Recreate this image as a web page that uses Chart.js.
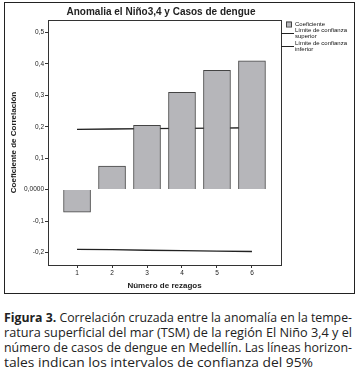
<!DOCTYPE html>
<html>
<head>
<meta charset="utf-8">
<script src="https://cdn.jsdelivr.net/npm/chart.js@4"></script>
<style>
  body { margin: 0; background: #fff; width: 360px; height: 380px; position: relative; overflow: hidden; }
  #frame { position: absolute; left: 4px; top: 2px; width: 349px; height: 290px; border: 1px solid #222; }
  #wrap { position: absolute; left: 5px; top: 3px; width: 349px; height: 290px; }
  #title { position: absolute; left: 0; width: 322px; top: 6px; text-align: center;
           font: bold 10px "Liberation Sans", Arial, sans-serif; color: #222; }
  #caption { position: absolute; left: 4px; top: 310px; width: 349px; color: #222;
             font-family: "Open Sans", sans-serif; font-size: 12.6px; line-height: 15px; }
  #caption span { display: inline-block; white-space: nowrap; transform-origin: 0 0; }
</style>
</head>
<body>
<div id="frame"></div>
<div id="wrap"><canvas id="myChart"></canvas></div>
<div id="title">Anomalia el Niño3,4 y Casos de dengue</div>
<div id="caption">
  <span data-w="348"><b>Figura 3.</b> Correlación cruzada entre la anomalía en la tempe-</span><br>
  <span data-w="348">ratura superficial del mar (TSM) de la región El Niño 3,4 y el</span><br>
  <span data-w="348">número de casos de dengue en Medellín. Las líneas horizon-</span><br>
  <span data-w="309">tales indican los intervalos de confianza del 95%</span>
</div>
<script>
const lags = [1, 2, 3, 4, 5, 6];
const coeficiente = [-0.072, 0.075, 0.205, 0.310, 0.380, 0.410];
const limite_superior = [0.192, 0.193, 0.194, 0.195, 0.196, 0.197];
const limite_inferior = [-0.190, -0.191, -0.193, -0.194, -0.196, -0.197];
const y_ticks = [-0.2, -0.1, 0, 0.1, 0.2, 0.3, 0.4, 0.5];
const y_tick_labels = ['-0,2', '-0,1', '0,0000', '0,1', '0,2', '0,3', '0,4', '0,5'];

// squeeze caption lines like the condensed print font
document.querySelectorAll('#caption span').forEach((el) => {
    const w = el.getBoundingClientRect().width;
    el.style.transform = 'scaleX(' + (Number(el.dataset.w) / w) + ')';
});

const pts = (vals) => lags.map((x, i) => ({x: x, y: vals[i]}));

// legend + box around plot area
const boxLegend = {
    id: 'boxLegend',
    afterDatasetsDraw(chart) {
        const ctx = chart.ctx;
        const a = chart.chartArea;
        ctx.save();
        ctx.strokeStyle = '#333';
        ctx.lineWidth = 1;
        ctx.strokeRect(a.left + 0.5, a.top + 0.5, a.right - a.left, a.bottom - a.top);

        ctx.font = '6px "Liberation Sans", Arial, sans-serif';
        ctx.textBaseline = 'middle';
        const tx = a.right + 14;
        chart.data.datasets.forEach((ds) => {
            const lines = Array.isArray(ds.label) ? ds.label : [ds.label];
            const y0 = ds.legendY;
            if (ds.type === 'bar') {
                ctx.fillStyle = ds.backgroundColor;
                ctx.fillRect(a.right + 5, y0 - 2.5, 5, 5);
                ctx.strokeStyle = ds.borderColor;
                ctx.strokeRect(a.right + 5.5, y0 - 2, 5, 5);
            } else {
                ctx.strokeStyle = ds.borderColor;
                ctx.lineWidth = 1;
                ctx.beginPath();
                ctx.moveTo(a.right, y0 + 3.5);
                ctx.lineTo(a.right + 13, y0 + 3.5);
                ctx.stroke();
            }
            ctx.fillStyle = '#111';
            lines.forEach((t, k) => ctx.fillText(t, tx, y0 + k * 6.5));
        });
        ctx.restore();
    }
};

const context = document.getElementById('myChart');
const myChart = new Chart(context, {
    data: {
        datasets: [{
            type: 'bar',
            label: 'Coeficiente',
            data: pts(coeficiente),
            backgroundColor: '#b6b6ba',
            borderColor: '#444',
            borderWidth: 1,
            barThickness: 27,
            legendY: 21
        }, {
            type: 'line',
            label: ['Límite de confianza', 'superior'],
            data: pts(limite_superior),
            borderColor: '#222',
            borderWidth: 1.3,
            pointRadius: 0,
            legendY: 27
        }, {
            type: 'line',
            label: ['Límite de confianza', 'inferior'],
            data: pts(limite_inferior),
            borderColor: '#222',
            borderWidth: 1.3,
            pointRadius: 0,
            legendY: 40
        }]
    },
    options: {
        responsive: true,
        maintainAspectRatio: false,
        animation: false,
        layout: { padding: { top: 17, right: 73, left: 0, bottom: 0 } },
        plugins: {
            legend: { display: false },
            tooltip: { enabled: false }
        },
        scales: {
            x: {
                type: 'linear',
                min: 0.17,
                max: 6.83,
                offset: false,
                afterFit: (s) => { s.height = 28; },
                afterBuildTicks: (s) => { s.ticks = lags.map(v => ({value: v})); },
                grid: { offset: false, drawOnChartArea: false, tickLength: 3, color: '#333' },
                border: { color: '#333' },
                ticks: {
                    padding: 1,
                    color: '#222',
                    font: { family: '"Liberation Sans", Arial, sans-serif', size: 6.5 },
                    callback: (v) => String(v)
                },
                title: {
                    display: true,
                    text: 'Número de rezagos',
                    color: '#222',
                    padding: { top: 0, bottom: 2 },
                    font: { family: '"Liberation Sans", Arial, sans-serif', size: 8, weight: 'bold' }
                }
            },
            y: {
                min: -0.24,
                max: 0.54,
                afterFit: (s) => { s.width = 43; },
                afterBuildTicks: (s) => { s.ticks = y_ticks.map(v => ({value: v})); },
                grid: { drawOnChartArea: false, tickLength: 3, color: '#333' },
                border: { color: '#333' },
                ticks: {
                    padding: 1,
                    color: '#222',
                    font: { family: '"Liberation Sans", Arial, sans-serif', size: 6.5 },
                    callback: (v) => y_tick_labels[y_ticks.findIndex(t => Math.abs(t - v) < 1e-9)]
                },
                title: {
                    display: true,
                    text: 'Coeficiente de Correlación',
                    color: '#222',
                    padding: { top: 4, bottom: 0 },
                    font: { family: '"Liberation Sans", Arial, sans-serif', size: 8, weight: 'bold' }
                }
            }
        }
    },
    plugins: [boxLegend]
});
</script>
</body>
</html>
